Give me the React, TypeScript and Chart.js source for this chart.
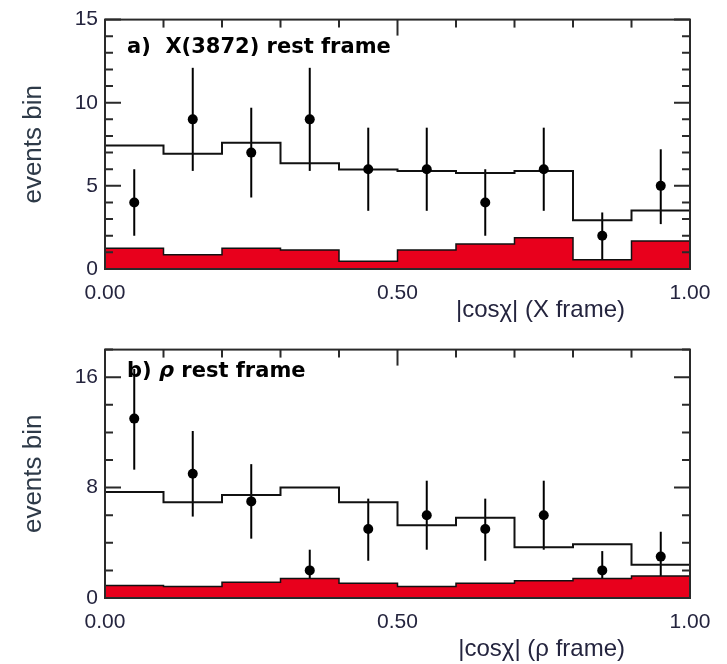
import React, { useEffect, useRef } from 'react';
import { Chart, registerables } from 'chart.js';

Chart.register(...registerables);

// ---- shared binning ----
const binEdges = [0, 0.1, 0.2, 0.3, 0.4, 0.5, 0.6, 0.7, 0.8, 0.9, 1.0];
const binCenters = [0.05, 0.15, 0.25, 0.35, 0.45, 0.55, 0.65, 0.75, 0.85, 0.95];
const xTickValues = [0, 0.5, 1.0];
const xTickLabels = ['0.00', '0.50', '1.00'];
const xMinorTicks = [0, 0.1, 0.2, 0.3, 0.4, 0.5, 0.6, 0.7, 0.8, 0.9, 1.0];

// ---- panel a: X(3872) rest frame ----
const aData = [4, 9, 7, 9, 6, 6, 4, 6, 2, 5];
const aErrLow = [2.0, 5.9, 4.3, 5.9, 3.5, 3.5, 2.0, 3.5, 0.6, 2.7];
const aErrHigh = [6.0, 12.1, 9.7, 12.1, 8.5, 8.5, 6.0, 8.5, 3.4, 7.2];
const aTotal = [7.43, 6.93, 7.6, 6.36, 5.98, 5.9, 5.78, 5.9, 2.93, 3.52];
const aBkg = [1.25, 0.85, 1.25, 1.15, 0.46, 1.15, 1.5, 1.88, 0.55, 1.68];
const aYTicks = [0, 5, 10, 15];
const aYMinor = [0, 1, 2, 3, 4, 5, 6, 7, 8, 9, 10, 11, 12, 13, 14, 15];

// ---- panel b: rho rest frame ----
const bData = [13, 9, 7, 2, 5, 6, 5, 6, 2, 3];
const bErrLow = [9.3, 5.9, 4.3, 0.6, 2.7, 3.5, 2.7, 3.5, 0.6, 1.2];
const bErrHigh = [16.6, 12.1, 9.7, 3.5, 7.2, 8.5, 7.2, 8.5, 3.4, 4.8];
const bTotal = [7.69, 6.93, 7.46, 8.0, 6.93, 5.28, 5.82, 3.67, 3.9, 2.41];
const bBkg = [0.9, 0.83, 1.14, 1.42, 1.07, 0.83, 1.07, 1.25, 1.42, 1.6];
const bYTicks = [0, 8, 16];
const bYMinor = [0, 2, 4, 6, 8, 10, 12, 14, 16, 18];

type PanelCfg = {
  data: number[];
  errLow: number[];
  errHigh: number[];
  total: number[];
  bkg: number[];
  yMax: number;
  yTicks: number[];
  yMinor: number[];
  labelParts: { text: string; italic: boolean }[];
  labelDy: number;
  xTitle: string;
  xTitleDy: number;
  height: number;
  xAxisHeight: number;
};

const TICK_COLOR = '#24243e';
const TITLE_COLOR = '#2e3a48';

function stepPoints(vals: number[]) {
  return binEdges.map((x, i) => ({ x, y: vals[Math.min(i, vals.length - 1)] }));
}

function makePlugin(cfg: PanelCfg) {
  return {
    id: 'panelDecor',
    beforeDatasetsDraw(chart: any) {
      const { ctx } = chart;
      const xs = chart.scales.x;
      const ys = chart.scales.y;
      ctx.save();
      ctx.strokeStyle = '#000';
      ctx.lineWidth = 2;
      cfg.data.forEach((_v, i) => {
        const px = xs.getPixelForValue(binCenters[i]);
        ctx.beginPath();
        ctx.moveTo(px, ys.getPixelForValue(cfg.errLow[i]));
        ctx.lineTo(px, ys.getPixelForValue(cfg.errHigh[i]));
        ctx.stroke();
      });
      ctx.restore();
    },
    afterDatasetsDraw(chart: any) {
      const { ctx, chartArea } = chart;
      const { left, right, top, bottom } = chartArea;
      const xs = chart.scales.x;
      const ys = chart.scales.y;
      ctx.save();
      ctx.strokeStyle = '#2a2a2a';
      ctx.lineWidth = 2;
      ctx.strokeRect(left, top, right - left, bottom - top);
      ctx.lineWidth = 2;
      cfg.yMinor.forEach((v) => {
        const py = ys.getPixelForValue(v);
        const len = cfg.yTicks.includes(v) ? 16 : 8;
        ctx.beginPath();
        ctx.moveTo(left, py);
        ctx.lineTo(left + len, py);
        ctx.moveTo(right, py);
        ctx.lineTo(right - len, py);
        ctx.stroke();
      });
      xMinorTicks.forEach((v) => {
        const px = xs.getPixelForValue(v);
        const len = xTickValues.some((t) => Math.abs(t - v) < 1e-9) ? 16 : 8;
        ctx.beginPath();
        ctx.moveTo(px, top);
        ctx.lineTo(px, top + len);
        ctx.stroke();
      });
      ctx.restore();
    },
    afterDraw(chart: any) {
      const { ctx, chartArea } = chart;
      const { left, right, top, bottom } = chartArea;
      ctx.save();
      // panel label
      let x = left + 22;
      const y = top + cfg.labelDy;
      ctx.textBaseline = 'middle';
      ctx.textAlign = 'left';
      ctx.fillStyle = '#000';
      cfg.labelParts.forEach((p) => {
        ctx.font = `${p.italic ? 'italic ' : ''}bold 21px "DejaVu Sans"`;
        ctx.fillText(p.text, x, y);
        x += ctx.measureText(p.text).width;
      });
      // x title
      ctx.font = '24px "Liberation Sans"';
      ctx.fillStyle = TICK_COLOR;
      ctx.textAlign = 'right';
      ctx.fillText(cfg.xTitle, right - 65, bottom + cfg.xTitleDy);
      // y title
      ctx.translate(34, (top + bottom) / 2);
      ctx.rotate(-Math.PI / 2);
      ctx.textAlign = 'center';
      ctx.font = '26px "Liberation Sans"';
      ctx.fillStyle = TITLE_COLOR;
      ctx.fillText('events bin', 0, 0);
      ctx.restore();
    },
  };
}

function Panel({ cfg }: { cfg: PanelCfg }) {
  const ref = useRef<HTMLCanvasElement | null>(null);
  useEffect(() => {
    if (!ref.current) return;
    const chart = new Chart(ref.current, {
      type: 'line',
      data: {
        datasets: [
          {
            type: 'scatter',
            data: binCenters.map((x, i) => ({ x, y: cfg.data[i] })),
            pointRadius: 5,
            pointHoverRadius: 5,
            backgroundColor: '#000',
            borderColor: '#000',
            borderWidth: 0,
            showLine: false,
          } as any,
          {
            data: stepPoints(cfg.total),
            stepped: 'before',
            fill: false,
            borderColor: '#111',
            borderWidth: 2,
            pointRadius: 0,
          },
          {
            data: stepPoints(cfg.bkg),
            stepped: 'before',
            fill: 'origin',
            backgroundColor: '#e8001c',
            borderColor: '#111',
            borderWidth: 1.5,
            pointRadius: 0,
          },
        ],
      },
      options: {
        responsive: false,
        animation: false,
        events: [],
        layout: { padding: { top: 16, right: 37, left: 0, bottom: 0 } },
        plugins: { legend: { display: false }, tooltip: { enabled: false } },
        scales: {
          x: {
            type: 'linear',
            min: 0,
            max: 1,
            grid: { display: false, drawTicks: false },
            border: { display: false },
            afterBuildTicks: (s: any) => {
              s.ticks = xTickValues.map((v) => ({ value: v }));
            },
            afterFit: (s: any) => {
              s.height = cfg.xAxisHeight;
            },
            ticks: {
              padding: 12,
              maxRotation: 0,
              color: TICK_COLOR,
              font: { family: '"Liberation Sans"', size: 21 },
              callback: (v: any) => {
                const i = xTickValues.findIndex((t) => Math.abs(t - Number(v)) < 1e-9);
                return i >= 0 ? xTickLabels[i] : '';
              },
            },
          },
          y: {
            type: 'linear',
            min: 0,
            max: cfg.yMax,
            grid: { display: false, drawTicks: false },
            border: { display: false },
            afterBuildTicks: (s: any) => {
              s.ticks = cfg.yTicks.map((v) => ({ value: v }));
            },
            afterFit: (s: any) => {
              s.width = 105;
            },
            ticks: {
              padding: 7,
              color: TICK_COLOR,
              font: { family: '"Liberation Sans"', size: 21 },
              callback: (v: any) => String(v),
            },
          },
        },
      },
      plugins: [makePlugin(cfg)],
    });
    return () => chart.destroy();
  }, [cfg]);
  return (
    <canvas
      ref={ref}
      width={727}
      height={cfg.height}
      style={{ display: 'block', width: 727, height: cfg.height }}
    />
  );
}

const panelA: PanelCfg = {
  data: aData,
  errLow: aErrLow,
  errHigh: aErrHigh,
  total: aTotal,
  bkg: aBkg,
  yMax: 15,
  yTicks: aYTicks,
  yMinor: aYMinor,
  labelParts: [{ text: 'a)  X(3872) rest frame', italic: false }],
  labelDy: 28,
  xTitle: '|cos\u03C7| (X frame)',
  xTitleDy: 41,
  height: 330,
  xAxisHeight: 61,
};

const panelB: PanelCfg = {
  data: bData,
  errLow: bErrLow,
  errHigh: bErrHigh,
  total: bTotal,
  bkg: bBkg,
  yMax: 18,
  yTicks: bYTicks,
  yMinor: bYMinor,
  labelParts: [
    { text: 'b) ', italic: false },
    { text: '\u03C1', italic: true },
    { text: ' rest frame', italic: false },
  ],
  labelDy: 22,
  xTitle: '|cos\u03C7| (\u03C1 frame)',
  xTitleDy: 51,
  height: 334,
  xAxisHeight: 66,
};

export default function App() {
  return (
    <div
      style={{
        position: 'absolute',
        left: 0,
        top: 0,
        width: 727,
        height: 664,
        background: '#fff',
      }}
    >
      <Panel cfg={panelA} />
      <Panel cfg={panelB} />
    </div>
  );
}
